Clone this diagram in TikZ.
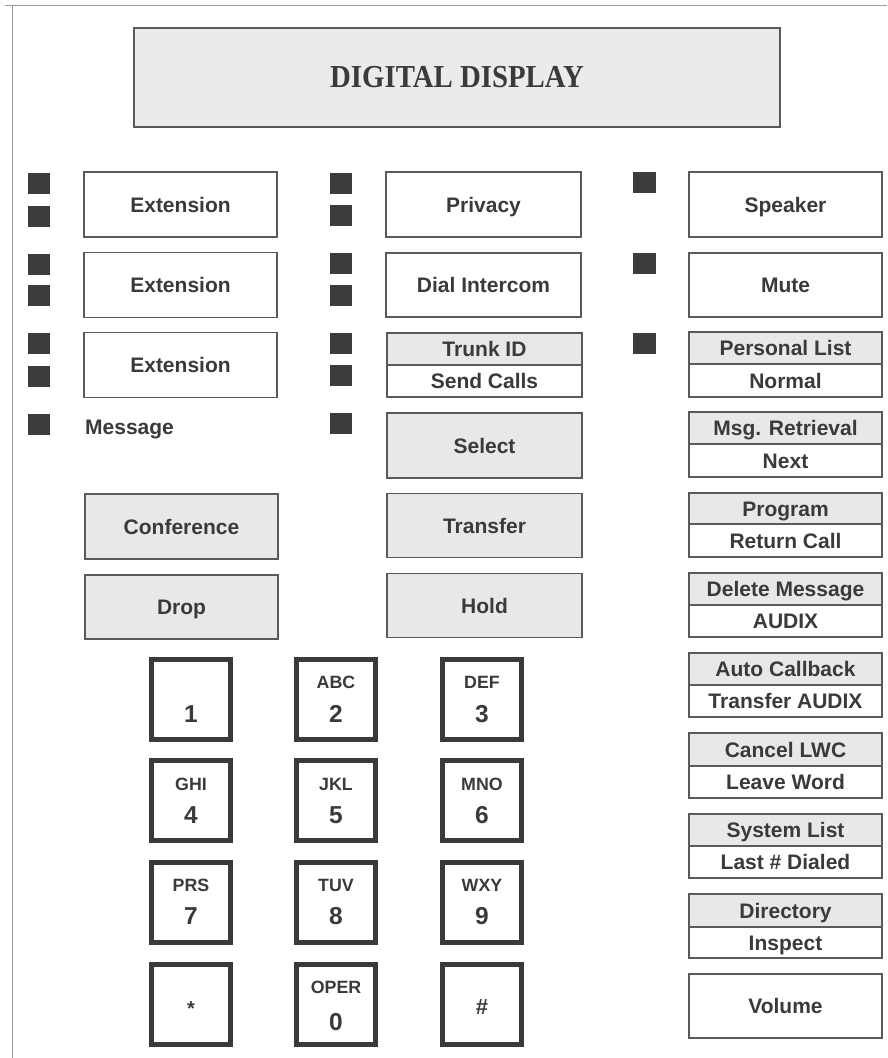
\documentclass[tikz,border=0pt]{standalone}
\usepackage{fontspec}
\setmainfont{Liberation Sans}
\newfontfamily\dispfont{Liberation Serif}
\usetikzlibrary{calc}
\definecolor{ink}{HTML}{3A3A3A}
\definecolor{shade}{HTML}{E8E8E8}
\definecolor{edge}{HTML}{5A5A5A}
\definecolor{lamp}{HTML}{3C3C3C}
\definecolor{frame}{HTML}{9A9A9A}
\newcommand\splitbtn[7]{%
  \node[btn, shaded, minimum height={#4-#3}] (#1t) at (#2,{(#3+#4)/2}) {#6};
  \node[btn, minimum height={#5-#4}] (#1b) at (#2,{(#4+#5)/2}) {#7};}
\begin{document}
\begin{tikzpicture}[x=1pt,y=-1pt,
  lampsq/.style={fill=lamp, draw=none, minimum width=22pt, minimum height=21pt, inner sep=0pt},
  btn/.style={draw=edge, line width=1.1pt, minimum width=193pt, minimum height=65pt,
    inner sep=0pt, text=ink, text height=15pt, text depth=0pt,
    font=\bfseries\fontsize{21}{25}\selectfont},
  shaded/.style={fill=shade},
  lbl/.style={inner sep=0pt, text=ink, text height=15pt, text depth=0pt,
    font=\bfseries\fontsize{21}{25}\selectfont},
  keybox/.style={draw=ink, line width=5pt, minimum width=79pt, minimum height=80pt, inner sep=0pt},
  keyltr/.style={inner sep=0pt, text=ink, text height=12.8pt, text depth=0pt,
    font=\bfseries\fontsize{17.8}{20}\selectfont},
  keydig/.style={inner sep=0pt, text=ink, text height=17.6pt, text depth=0pt,
    font=\bfseries\fontsize{24.5}{28}\selectfont},
]
\useasboundingbox (0,0) rectangle (887,1058);
\fill[white] (0,0) rectangle (887,1058);
% frame lines
\draw[frame, line width=1pt] (5,5) -- (887,5);
\draw[frame, line width=1pt] (12,5) -- (12,1058);

% display
\node[draw=edge, line width=1.1pt, fill=shade!85, minimum width=646pt, minimum height=99pt,
  inner sep=0pt, text=ink] (display) at (457,77.5)
  {\dispfont\bfseries\fontsize{32}{36}\selectfont\scalebox{0.9}[1]{DIGITAL DISPLAY}};

% left column lamps
\node[lampsq] (l1a) at (39,183.5) {};
\node[lampsq] (l1b) at (39,216) {};
\node[lampsq] (l2a) at (39,264) {};
\node[lampsq] (l2b) at (39,295.5) {};
\node[lampsq] (l3a) at (39,343.5) {};
\node[lampsq] (l3b) at (39,376) {};
\node[lampsq] (l4) at (39,424) {};
% left column buttons
\node[btn] (ext1) at (180.5,204.5) {Extension};
\node[btn] (ext2) at (180.5,285) {Extension};
\node[btn] (ext3) at (180.5,365) {Extension};
\node[lbl, anchor=west] (msg) at (85,427) {Message};
\node[btn, shaded] (conf) at (181.5,526.5) {Conference};
\node[btn, shaded, minimum height=64pt] (drop) at (181.5,607) {Drop};

% middle column lamps
\node[lampsq] (m1a) at (341,183) {};
\node[lampsq] (m1b) at (341,215.5) {};
\node[lampsq] (m2a) at (341,263.5) {};
\node[lampsq] (m2b) at (341,295.5) {};
\node[lampsq] (m3a) at (341,343.5) {};
\node[lampsq] (m3b) at (341,375.5) {};
\node[lampsq] (m4) at (341,423.5) {};
% middle column buttons
\node[btn, minimum width=195pt] (priv) at (483.5,204.5) {Privacy};
\node[btn, minimum width=195pt, minimum height=64pt] (dial) at (483.5,285) {Dial Intercom};
\begin{scope}[btn/.append style={minimum width=195pt}]
\splitbtn{trunk}{484.5}{333}{365}{397}{Trunk ID}{Send Calls}
\end{scope}
\node[btn, shaded, minimum width=195pt] (sel) at (484.5,445.5) {Select};
\node[btn, shaded, minimum width=195pt, minimum height=64pt] (xfer) at (484.5,525.5) {Transfer};
\node[btn, shaded, minimum width=195pt, minimum height=64pt] (hold) at (484.5,605.5) {Hold};

% right column lamps
\node[lampsq, minimum width=23pt] (r1) at (644.5,182.5) {};
\node[lampsq, minimum width=23pt] (r2) at (644.5,263) {};
\node[lampsq, minimum width=23pt] (r3) at (644.5,343) {};
% right column buttons
\node[btn] (spk) at (785.5,204.5) {Speaker};
\node[btn, minimum height=64pt] (mute) at (785.5,285) {Mute};
\splitbtn{pl}{785.5}{332}{364}{397}{Personal List}{Normal}
\splitbtn{mr}{785.5}{412}{444}{477}{Msg. Retrieval}{Next}
\splitbtn{pg}{785.5}{493}{524}{557}{Program}{Return Call}
\splitbtn{dm}{785.5}{573}{605}{637}{Delete Message}{AUDIX}
\splitbtn{ac}{785.5}{653}{685}{717}{Auto Callback}{Transfer AUDIX}
\splitbtn{cl}{785.5}{733}{766}{798}{Cancel LWC}{Leave Word}
\splitbtn{sl}{785.5}{814}{846}{878}{System List}{Last \# Dialed}
\splitbtn{dr}{785.5}{894}{927}{958}{Directory}{Inspect}
\node[btn, minimum height=64pt] (vol) at (785.5,1006) {Volume};

% keypad
\node[keybox] (k1) at (191,699.5) {};
\node[keybox] (k2) at (336,699.5) {};
\node[keybox] (k3) at (482,699.5) {};
\node[keybox] (k4) at (191,800.5) {};
\node[keybox] (k5) at (336,800.5) {};
\node[keybox] (k6) at (482,800.5) {};
\node[keybox] (k7) at (191,902.5) {};
\node[keybox] (k8) at (336,902.5) {};
\node[keybox] (k9) at (482,902.5) {};
\node[keybox] (kst) at (191,1004.5) {};
\node[keybox] (k0) at (336,1004.5) {};
\node[keybox] (khs) at (482,1004.5) {};

\node[keydig] (k1d) at ($(k1)+(0,14)$) {1};
\node[keyltr] (k2l) at ($(k2)+(0,-17)$) {ABC};
\node[keydig] (k2d) at ($(k2)+(0,14)$) {2};
\node[keyltr] (k3l) at ($(k3)+(0,-17)$) {DEF};
\node[keydig] (k3d) at ($(k3)+(0,14)$) {3};
\node[keyltr] (k4l) at ($(k4)+(0,-16)$) {GHI};
\node[keydig] (k4d) at ($(k4)+(0,14)$) {4};
\node[keyltr] (k5l) at ($(k5)+(0,-16)$) {JKL};
\node[keydig] (k5d) at ($(k5)+(0,14)$) {5};
\node[keyltr] (k6l) at ($(k6)+(0,-16)$) {MNO};
\node[keydig] (k6d) at ($(k6)+(0,14)$) {6};
\node[keyltr] (k7l) at ($(k7)+(0,-17)$) {PRS};
\node[keydig] (k7d) at ($(k7)+(0,13)$) {7};
\node[keyltr] (k8l) at ($(k8)+(0,-17)$) {TUV};
\node[keydig] (k8d) at ($(k8)+(0,13)$) {8};
\node[keyltr] (k9l) at ($(k9)+(0,-17)$) {WXY};
\node[keydig] (k9d) at ($(k9)+(0,13)$) {9};
\node[inner sep=0pt, text=ink, font=\bfseries\fontsize{20}{24}\selectfont] (kstd) at ($(kst)+(0,4)$) {*};
\node[keyltr] (k0l) at ($(k0)+(0,-17)$) {OPER};
\node[keydig] (k0d) at ($(k0)+(0,17)$) {0};
\node[keydig, font=\bfseries\fontsize{22}{26}\selectfont, text height=15.8pt] (khsd) at ($(khs)+(0,2)$) {\#};
\end{tikzpicture}
\end{document}
